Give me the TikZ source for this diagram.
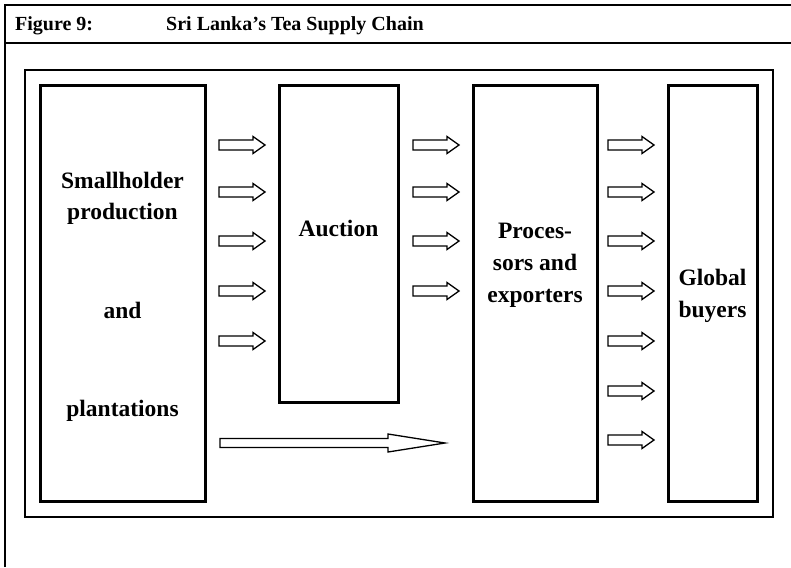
\documentclass[tikz,border=0pt]{standalone}
\usepackage{fontspec}
\setmainfont{Liberation Serif}
\tikzset{
  stagebox/.style={draw=black, line width=3pt, fill=white, inner sep=0pt},
  lbl/.style={font=\fontsize{23.5}{30}\selectfont\bfseries, anchor=base, inner sep=0pt},
  ttl/.style={font=\fontsize{20}{24}\selectfont\bfseries, anchor=base west, inner sep=0pt},
  arrowline/.style={draw=black, line width=1.3pt, fill=white, line join=miter},
  smallarrow/.pic={\path[arrowline] (0,-5) -- (34,-5) -- (34,-8.5) -- (46,0) -- (34,8.5) -- (34,5) -- (0,5) -- cycle;},
  longarrow/.pic={\path[arrowline] (0,-4.5) -- (168,-4.5) -- (168,-9) -- (225,0) -- (168,9) -- (168,4.5) -- (0,4.5) -- cycle;}
}
\begin{document}
\begin{tikzpicture}[x=1pt,y=-1pt]
\useasboundingbox (0,0) rectangle (791,567);
% outer frame lines
\coordinate (tl) at (5,5);
\coordinate (tr) at (791,5);
\coordinate (bl) at (5,567);
\coordinate (dl) at (5,43);
\coordinate (dr) at (791,43);
\draw[line width=2pt] (bl) -- (tl) -- (tr);
\draw[line width=2pt] (dl) -- (dr);
% title
\node[ttl] (fig) at (15,31) {Figure 9:};
\node[ttl] (title) at (166,31) {Sri Lanka’s Tea Supply Chain};
% inner frame
\draw[line width=1.3pt] (25,70) rectangle (773,517);
% boxes
\node[stagebox, minimum width=165pt, minimum height=415pt] (b1) at (122.5,293.5) {};
\node[stagebox, minimum width=119pt, minimum height=316pt] (b2) at (338.5,244) {};
\node[stagebox, minimum width=124pt, minimum height=415pt] (b3) at (535,293.5) {};
\node[stagebox, minimum width=89pt, minimum height=415pt] (b4) at (712.5,293.5) {};
% labels
\node[lbl] (t1a) at (122.5,188) {Smallholder};
\node[lbl] (t1b) at (122.5,219) {production};
\node[lbl] (t1c) at (122.5,318) {and};
\node[lbl] (t1d) at (122.5,416) {plantations};
\node[lbl] (t2) at (338.5,236) {Auction};
\node[lbl] (t3a) at (535,238) {Proces-};
\node[lbl] (t3b) at (535,270) {sors and};
\node[lbl] (t3c) at (535,302) {exporters};
\node[lbl] (t4a) at (712.5,285) {Global};
\node[lbl] (t4b) at (712.5,317) {buyers};
% arrows column 1
\foreach \yy in {145,192,241,291,341} \pic at (219,\yy) {smallarrow};
% arrows column 2
\foreach \yy in {145,192,241,291} \pic at (413,\yy) {smallarrow};
% arrows column 3
\foreach \yy in {145,192,241,291,341,391,440} \pic at (608,\yy) {smallarrow};
% long arrow
\pic at (220,443) {longarrow};
\end{tikzpicture}
\end{document}
